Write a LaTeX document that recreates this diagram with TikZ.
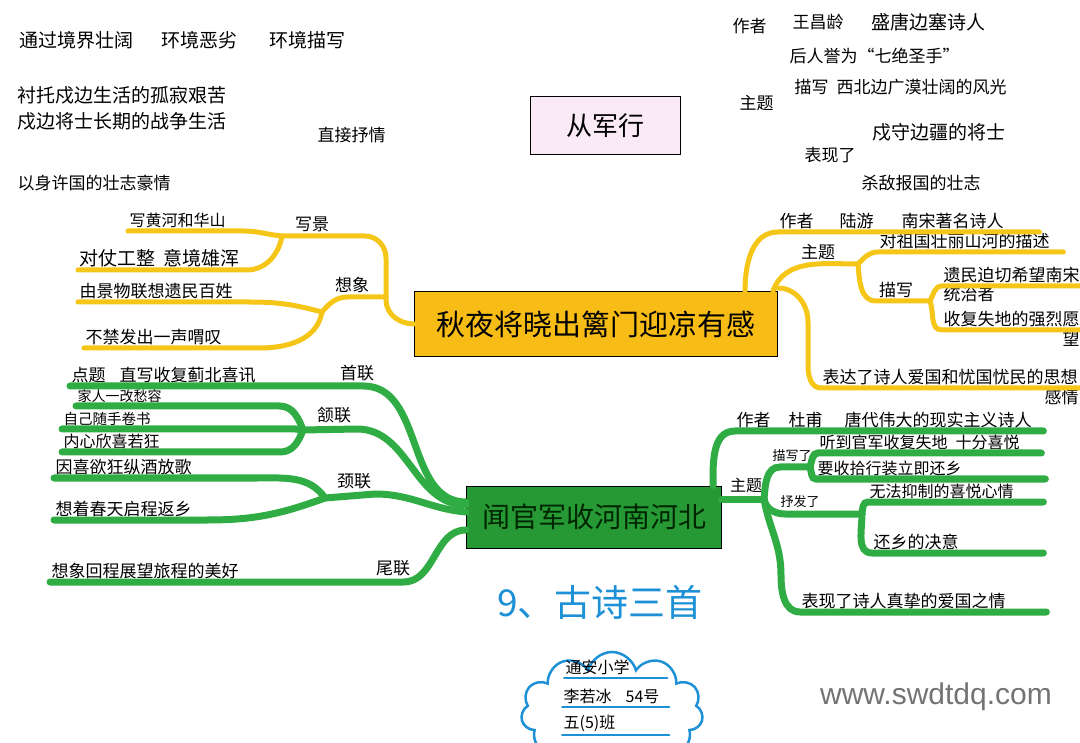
\documentclass[tikz,border=0pt]{standalone}
\usepackage{fontspec}
\setmainfont{Noto Sans CJK SC}
\newfontfamily\webfont{Liberation Sans}
\usetikzlibrary{shapes.symbols, positioning, calc}

\definecolor{ylwline}{RGB}{245,198,24}
\definecolor{ylwbox}{RGB}{247,188,22}
\definecolor{grnline}{RGB}{48,172,68}
\definecolor{grnbox}{RGB}{38,152,52}
\definecolor{pinkbox}{RGB}{249,234,246}
\definecolor{titleblue}{RGB}{30,144,214}

\begin{document}
\begin{tikzpicture}[
  x=1pt, y=1pt,
  every node/.style={font=\fontsize{17}{20}\selectfont, inner xsep=1.5pt, inner ysep=3pt},
  note/.style={anchor=west},
  big/.style={font=\fontsize{19}{22}\selectfont},
  small/.style={font=\fontsize{16}{19}\selectfont},
  smaller/.style={font=\fontsize{14.5}{17}\selectfont},
  tiny/.style={font=\fontsize{13}{15}\selectfont},
  leaf/.style={anchor=south west, text width=#1pt, align=left},
  tag/.style={anchor=south},
  ybr/.style={draw=ylwline, line width=5pt, line cap=round},
  gbr/.style={draw=grnline, line width=7pt, line cap=round},
  cul/.style={draw=titleblue, line width=2pt, line cap=round}
]
\useasboundingbox (0,0) rectangle (1080,-743);
\clip (0,0) rectangle (1080,-743);

% 从军行
\node[note, big] (jjzk) at (18,-40) {通过境界壮阔};
\node[note, big] (hjel) at (160,-40) {环境恶劣};
\node[note, big] (hjms) at (268,-40) {环境描写};
\node[note, big] (cthj) at (16,-95) {衬托戍边生活的孤寂艰苦};
\node[note, big] (sbjs) at (16,-121) {戍边将士长期的战争生活};
\node[note] (zjsq) at (316,-135) {直接抒情};
\node[note] (ysxg) at (16,-183) {以身许国的壮志豪情};
\node[draw, line width=1pt, fill=pinkbox, minimum width=150, minimum height=58,
      font=\fontsize{26}{30}\selectfont] (cjx) at (605,-126) {从军行};
\node[note] (czz) at (731,-26) {作者};
\node[note] (cwcl) at (791,-22) {王昌龄};
\node[note, big] (cbsr) at (870,-22) {盛唐边塞诗人};
\node[note] (cyw) at (788,-56) {后人誉为“七绝圣手”};
\node[note] (cms) at (793,-87) {描写\kern8pt 西北边广漠壮阔的风光};
\node[note] (czt) at (738,-103) {主题};
\node[note, big] (cjs) at (871,-132) {戍守边疆的将士};
\node[note] (cbx) at (803,-155) {表现了};
\node[note] (csd) at (860,-183) {杀敌报国的壮志};

% 秋夜将晓出篱门迎凉有感
\node[draw, line width=1pt, fill=ylwbox, minimum width=363, minimum height=65,
      font=\fontsize{29}{32}\selectfont] (yb) at (596,-324) {秋夜将晓出篱门迎凉有感};
\coordinate (xj) at (282,-236);
\coordinate (xxj) at (322,-312);
\coordinate (ytrunk) at (386,-297);
\coordinate (yzt) at (858,-264);
\coordinate (ymx) at (930,-301);
\node[tag] (xjtag) at (312,-235) {写景};
\node[tag] (xxtag) at (352,-296) {想象};
\node[tag] (yzttag) at (818,-263) {主题};
\node[tag] (ymxtag) at (896,-301) {描写};
\node[leaf=112, small] (xj1) at (128,-231) {写黄河和华山};
\node[leaf=165, big] (xj2) at (78,-270) {对仗工整\kern8pt 意境雄浑};
\node[leaf=168] (xx1) at (78,-302) {由景物联想遗民百姓};
\node[leaf=172] (xx2) at (84,-348) {不禁发出一声喟叹};
\node[leaf=258] (yz) at (778,-232) {作者\kern26pt 陆游\kern28pt 南宋著名诗人};
\node[leaf=182] (yzt1) at (878,-252) {对祖国壮丽山河的描述};
\node[leaf=136] (ym1) at (942,-286) {遗民迫切希望南宋};
\node[anchor=north west, inner ysep=0pt] (ym1b) at (ym1.south west) {统治者};
\node[leaf=136] (ym2) at (942,-330) {收复失地的强烈愿};
\node[anchor=north east, inner ysep=1pt] (ym2b) at (ym2.south east) {望};
\node[leaf=256] (ybd) at (821,-388) {表达了诗人爱国和忧国忧民的思想};
\node[anchor=north east, inner ysep=1pt] (ybdb) at (ybd.south east) {感情};

\draw[ybr] (xj) -- (365,-236) to[out=0,in=90] (386,-258) -- (386,-300)
  to[out=-90,in=180] (yb.west);
\draw[ybr] (xxj) to[out=50,in=180] (348,-297) -- (ytrunk);
\draw[ybr] (xj) to[out=175,in=0] (xj1.south east) -- (xj1.south west);
\draw[ybr] (xj) to[out=-100,in=0] (xj2.south east) -- (xj2.south west);
\draw[ybr] (xxj) to[out=165,in=0] (xx1.south east) -- (xx1.south west);
\draw[ybr] (xxj) to[out=-100,in=0] (xx2.south east) -- (xx2.south west);
\draw[ybr] ($(yb.north east)+(-33,0)$) to[out=90,in=180] (yz.south west) -- (yz.south east);
\draw[ybr] ($(yb.north east)+(-5,0)$) to[out=70,in=180] (yzt);
\draw[ybr] (yzt) to[out=45,in=180] (yzt1.south west) -- (yzt1.south east);
\draw[ybr] (yzt) to[out=-85,in=180] (876,-301) -- (ymx);
\draw[ybr] (ymx) to[out=60,in=180] (ym1.south west) -- (ym1.south east);
\draw[ybr] (ymx) to[out=-70,in=180] (ym2.south west) -- (ym2.south east);
\draw[ybr] ($(yb.north east)+(0,3)$) to[out=0,in=90] (808,-322) -- (808,-366)
  to[out=-90,in=180] (ybd.south west) -- (ybd.south east);

% 闻官军收河南河北
\node[draw, line width=1pt, fill=grnbox, minimum width=255, minimum height=62,
      text=black!85!green, font=\fontsize{28}{32}\selectfont] (gb) at (594,-517) {闻官军收河南河北};
\coordinate (hj) at (303,-430);
\coordinate (jj) at (325,-498);
\coordinate (gzt) at (764,-499);
\coordinate (gmx) at (810,-467);
\coordinate (gsf) at (862,-514);
\node[tag] (sltag) at (357,-384) {首联};
\node[tag] (hltag) at (334,-426) {颔联};
\node[tag] (jltag) at (354,-492) {颈联};
\node[tag] (wltag) at (393,-579) {尾联};
\node[tag, small] (gzttag) at (746,-496) {主题};
\node[tag, tiny] (gmxtag) at (792,-465) {描写了};
\node[tag, tiny] (gsftag) at (800,-511) {抒发了};
\node[leaf=290] (sl1) at (70,-386) {点题\kern14pt 直写收复蓟北喜讯};
\node[leaf=200, font=\fontsize{14}{17}\selectfont] (hl1) at (76,-406) {家人一改愁容};
\node[leaf=230, smaller] (hl2) at (62,-429) {自己随手卷书};
\node[leaf=215, small] (hl3) at (62,-452) {内心欣喜若狂};
\node[leaf=200] (jl1) at (54,-478) {因喜欲狂纵酒放歌};
\node[leaf=150] (jl2) at (54,-520) {想着春天启程返乡};
\node[leaf=350] (wl) at (50,-582) {想象回程展望旅程的美好};
\node[leaf=305] (gz) at (735,-431) {作者\kern18pt 杜甫\kern22pt 唐代伟大的现实主义诗人};
\node[leaf=220, small] (gm1) at (818,-453) {听到官军收复失地\kern8pt 十分喜悦};
\node[leaf=226, small] (gm2) at (816,-479) {要收拾行装立即还乡};
\node[leaf=172, small] (gs1) at (868,-502) {无法抑制的喜悦心情};
\node[leaf=168] (gs2) at (872,-553) {还乡的决意};
\node[leaf=243] (gbx) at (800,-612) {表现了诗人真挚的爱国之情};

\draw[gbr] ($(gb.west)+(0,15)$) to[out=180,in=0] (sl1.south east) -- (sl1.south west);
\draw[gbr] ($(gb.west)+(0,12)$) to[out=180,in=0] (357,-429) -- (hj);
\draw[gbr] (hj) to[out=110,in=0] (hl1.south east) -- (hl1.south west);
\draw[gbr] (hj) -- (hl2.south east) -- (hl2.south west);
\draw[gbr] (hj) to[out=-110,in=0] (hl3.south east) -- (hl3.south west);
\draw[gbr] ($(gb.west)+(0,5)$) to[out=175,in=0] (375,-494) -- (jj);
\draw[gbr] (jj) to[out=125,in=0] (jl1.south east) -- (jl1.south west);
\draw[gbr] (jj) to[out=200,in=0] (jl2.south east) -- (jl2.south west);
\draw[gbr] ($(gb.west)+(0,-13)$) to[out=180,in=0] (wl.south east) -- (wl.south west);
\draw[gbr] ($(gb.north east)+(-9,0)$) to[out=90,in=180] (gz.south west) -- (gz.south east);
\draw[gbr] ($(gb.east)+(0,18)$) -- (gzt);
\draw[gbr] (gzt) to[out=85,in=180] (780,-467) -- (gmx);
\draw[gbr] (gmx) to[out=70,in=180] (gm1.south west) -- (gm1.south east);
\draw[gbr] (gmx) to[out=-70,in=180] (gm2.south west) -- (gm2.south east);
\draw[gbr] (gzt) to[out=-80,in=180] (785,-514) -- (gsf);
\draw[gbr] (gsf) to[out=85,in=180] (gs1.south west) -- (gs1.south east);
\draw[gbr] (gsf) to[out=-90,in=180] (gs2.south west) -- (gs2.south east);
\draw[gbr] (gzt) to[out=-80,in=90] (781,-575) to[out=-90,in=180] (gbx.south west) -- (gbx.south east);

% 标题
\node[text=titleblue, font=\fontsize{37}{42}\selectfont] (ttl) at (600,-602) {9、古诗三首};
\node[cloud, draw=titleblue, line width=2.5pt, cloud puffs=11, aspect=1.5,
      minimum width=182, minimum height=120] (cld) at (612,-712) {};
\node[leaf=100, small] (c1) at (564,-678) {通安小学};
\node[leaf=104, small] (c2) at (562,-707) {李若冰\kern14pt 54号};
\node[leaf=104, small] (c3) at (562,-735) {五(5)班};
\draw[cul] (c1.south west) -- (c1.south east);
\draw[cul] (c2.south west) -- (c2.south east);
\draw[cul] (c3.south west) -- (c3.south east);

\node[text=black!55, font=\webfont\fontsize{30}{34}\selectfont] (wm) at (936,-697) {www.swdtdq.com};
\end{tikzpicture}
\end{document}
